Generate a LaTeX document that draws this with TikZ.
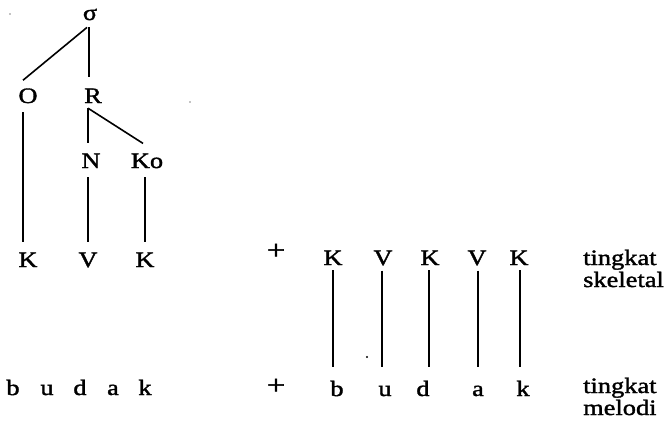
\documentclass[tikz,border=0pt]{standalone}
\usepackage{fontspec}
\setmainfont{Liberation Serif}[FakeStretch=1.2,FakeBold=1.6]
\begin{document}
\begin{tikzpicture}[x=1pt,y=-1pt,
  lbl/.style={inner sep=0pt, anchor=base, font=\fontsize{22}{26}\selectfont},
  plus/.style={inner sep=0pt, anchor=base, font=\fontsize{27}{30}\selectfont},
  side/.style={inner sep=0pt, anchor=base west, font=\fontsize{22}{26}\selectfont},
  ln/.style={line width=1.6pt},
  speck/.style={fill=black}]
\useasboundingbox (0,0) rectangle (667,428);
% tree
\node[lbl] (sig) at (90,20) {σ};
\node[lbl] (O) at (28,103) {O};
\node[lbl] (R) at (93,103) {R};
\node[lbl] (N) at (91,168) {N};
\node[lbl] (Ko) at (147,168) {Ko};
\node[lbl] (k1) at (28,267) {K};
\node[lbl] (v1) at (88,267) {V};
\node[lbl] (k2) at (145,267) {K};
\draw[ln] ([xshift=-3pt,yshift=-7pt]sig.south) -- ([xshift=-5pt,yshift=8pt]O.north);
\draw[ln] ([xshift=-1pt,yshift=-7pt]sig.south) -- ([xshift=-4pt,yshift=11pt]R.north);
\draw[ln] ([xshift=-5pt,yshift=-9pt]O.south) -- ([xshift=-5pt,yshift=10pt]k1.north);
\draw[ln] ([xshift=-5pt,yshift=-5pt]R.south) -- ([xshift=-3pt,yshift=10pt]N.north);
\draw[ln] ([xshift=-5pt,yshift=-5pt]R.south) -- ([xshift=-4pt,yshift=10pt]Ko.north);
\draw[ln] ([xshift=-3pt,yshift=-9pt]N.south) -- ([yshift=10pt]v1.north);
\draw[ln] ([xshift=-2pt,yshift=-9pt]Ko.south) -- ([yshift=10pt]k2.north);
% bottom-left word
\node[lbl] (wb) at (13,395) {b};
\node[lbl] (wu) at (47,395) {u};
\node[lbl] (wd) at (80,395) {d};
\node[lbl] (wa) at (113,395) {a};
\node[lbl] (wk) at (145,395) {k};
% plus signs
\node[plus] (p1) at (276,259) {+};
\node[plus] (p2) at (276,394) {+};
% skeletal tier
\node[lbl] (s1) at (333,265) {K};
\node[lbl] (s2) at (383,265) {V};
\node[lbl] (s3) at (430,265) {K};
\node[lbl] (s4) at (477,265) {V};
\node[lbl] (s5) at (519,265) {K};
% melodic tier
\node[lbl] (m1) at (337,396) {b};
\node[lbl] (m2) at (385,396) {u};
\node[lbl] (m3) at (423,396) {d};
\node[lbl] (m4) at (478,396) {a};
\node[lbl] (m5) at (523,396) {k};
% association lines
\coordinate (lowend) at (0,367);
\draw[ln] ([yshift=-5pt]s1.south) -- (s1.south |- lowend);
\draw[ln] ([xshift=-1pt,yshift=-5pt]s2.south) -- ([xshift=-1pt]s2.south |- lowend);
\draw[ln] ([xshift=-1pt,yshift=-5pt]s3.south) -- ([xshift=-1pt]s3.south |- lowend);
\draw[ln] ([xshift=1pt,yshift=-5pt]s4.south) -- ([xshift=1pt]s4.south |- lowend);
\draw[ln] ([xshift=1pt,yshift=-5pt]s5.south) -- ([xshift=1pt]s5.south |- lowend);
% tier labels
\node[side] (t1) at (583,265) {tingkat};
\node[side] (t2) at (583,287) {skeletal};
\node[side] (t3) at (583,393) {tingkat};
\node[side] (t4) at (583,415) {melodi};
% specks
\fill[speck] (367,357) circle (1.2pt);
\fill[speck] (10,14) circle (0.7pt);
\fill[speck] (190,102) circle (0.7pt);
\end{tikzpicture}
\end{document}
